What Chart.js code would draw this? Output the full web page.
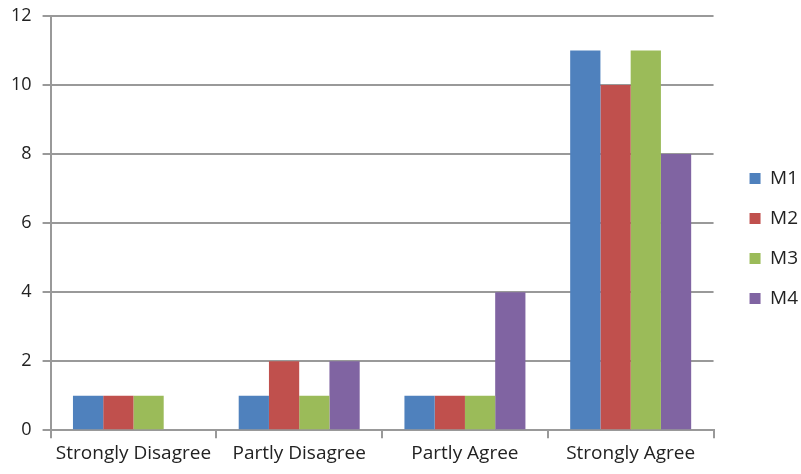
<!DOCTYPE html>
<html>
<head>
<meta charset="utf-8">
<script src="https://cdn.jsdelivr.net/npm/chart.js@4"></script>
<style>
  html, body { margin: 0; padding: 0; background: #fff; }
  #wrap { width: 801px; height: 474px; }
</style>
</head>
<body>
<div id="wrap"><canvas id="c" width="801" height="474"></canvas></div>
<script>
const categories = ['Strongly Disagree', 'Partly Disagree', 'Partly Agree', 'Strongly Agree'];
const m1 = [1, 1, 1, 11];
const m2 = [1, 2, 1, 10];
const m3 = [1, 1, 1, 11];
const m4 = [0, 2, 4, 8];
const seriesNames = ['M1', 'M2', 'M3', 'M4'];
const colors = ['#4F81BD', '#C0504D', '#9BBB59', '#8064A2'];

const FONT = "'Open Sans', 'Noto Sans', sans-serif";
const gridColor = '#999999';

// nudge the legend a bit to the right
const legendShift = {
    id: 'legendShift',
    afterLayout(chart) {
        const lg = chart.legend;
        if (lg) {
            lg.left += 15; lg.right += 15;
            lg.top -= 4; lg.bottom -= 4;
        }
    }
};

new Chart(document.getElementById('c'), {
    type: 'bar',
    data: {
        labels: categories,
        datasets: [m1, m2, m3, m4].map((d, i) => ({
            label: seriesNames[i],
            data: d,
            backgroundColor: colors[i],
            borderWidth: 0,
            categoryPercentage: 0.73,
            barPercentage: 1.0
        }))
    },
    plugins: [legendShift],
    options: {
        responsive: false,
        animation: false,
        layout: { padding: { top: 16, right: 8, left: 0, bottom: 5 } },
        plugins: {
            legend: {
                position: 'right',
                labels: {
                    boxWidth: 11,
                    boxHeight: 11,
                    padding: 21,
                    color: '#222',
                    font: { family: FONT, size: 19 }
                }
            },
            tooltip: { enabled: false }
        },
        scales: {
            x: {
                grid: {
                    drawOnChartArea: false,
                    tickLength: 8,
                    color: gridColor,
                    lineWidth: 2
                },
                border: { color: gridColor, width: 2 },
                ticks: {
                    color: '#222',
                    font: { family: FONT, size: 19 },
                    padding: 4,
                    maxRotation: 0
                }
            },
            y: {
                min: 0,
                max: 12,
                afterFit(scale) { scale.paddingTop = 0; },
                ticks: {
                    stepSize: 2,
                    color: '#222',
                    font: { family: FONT, size: 18 },
                    padding: 11
                },
                grid: {
                    color: gridColor,
                    lineWidth: 2,
                    tickLength: 8
                },
                border: { color: gridColor, width: 2 }
            }
        }
    }
});
</script>
</body>
</html>
